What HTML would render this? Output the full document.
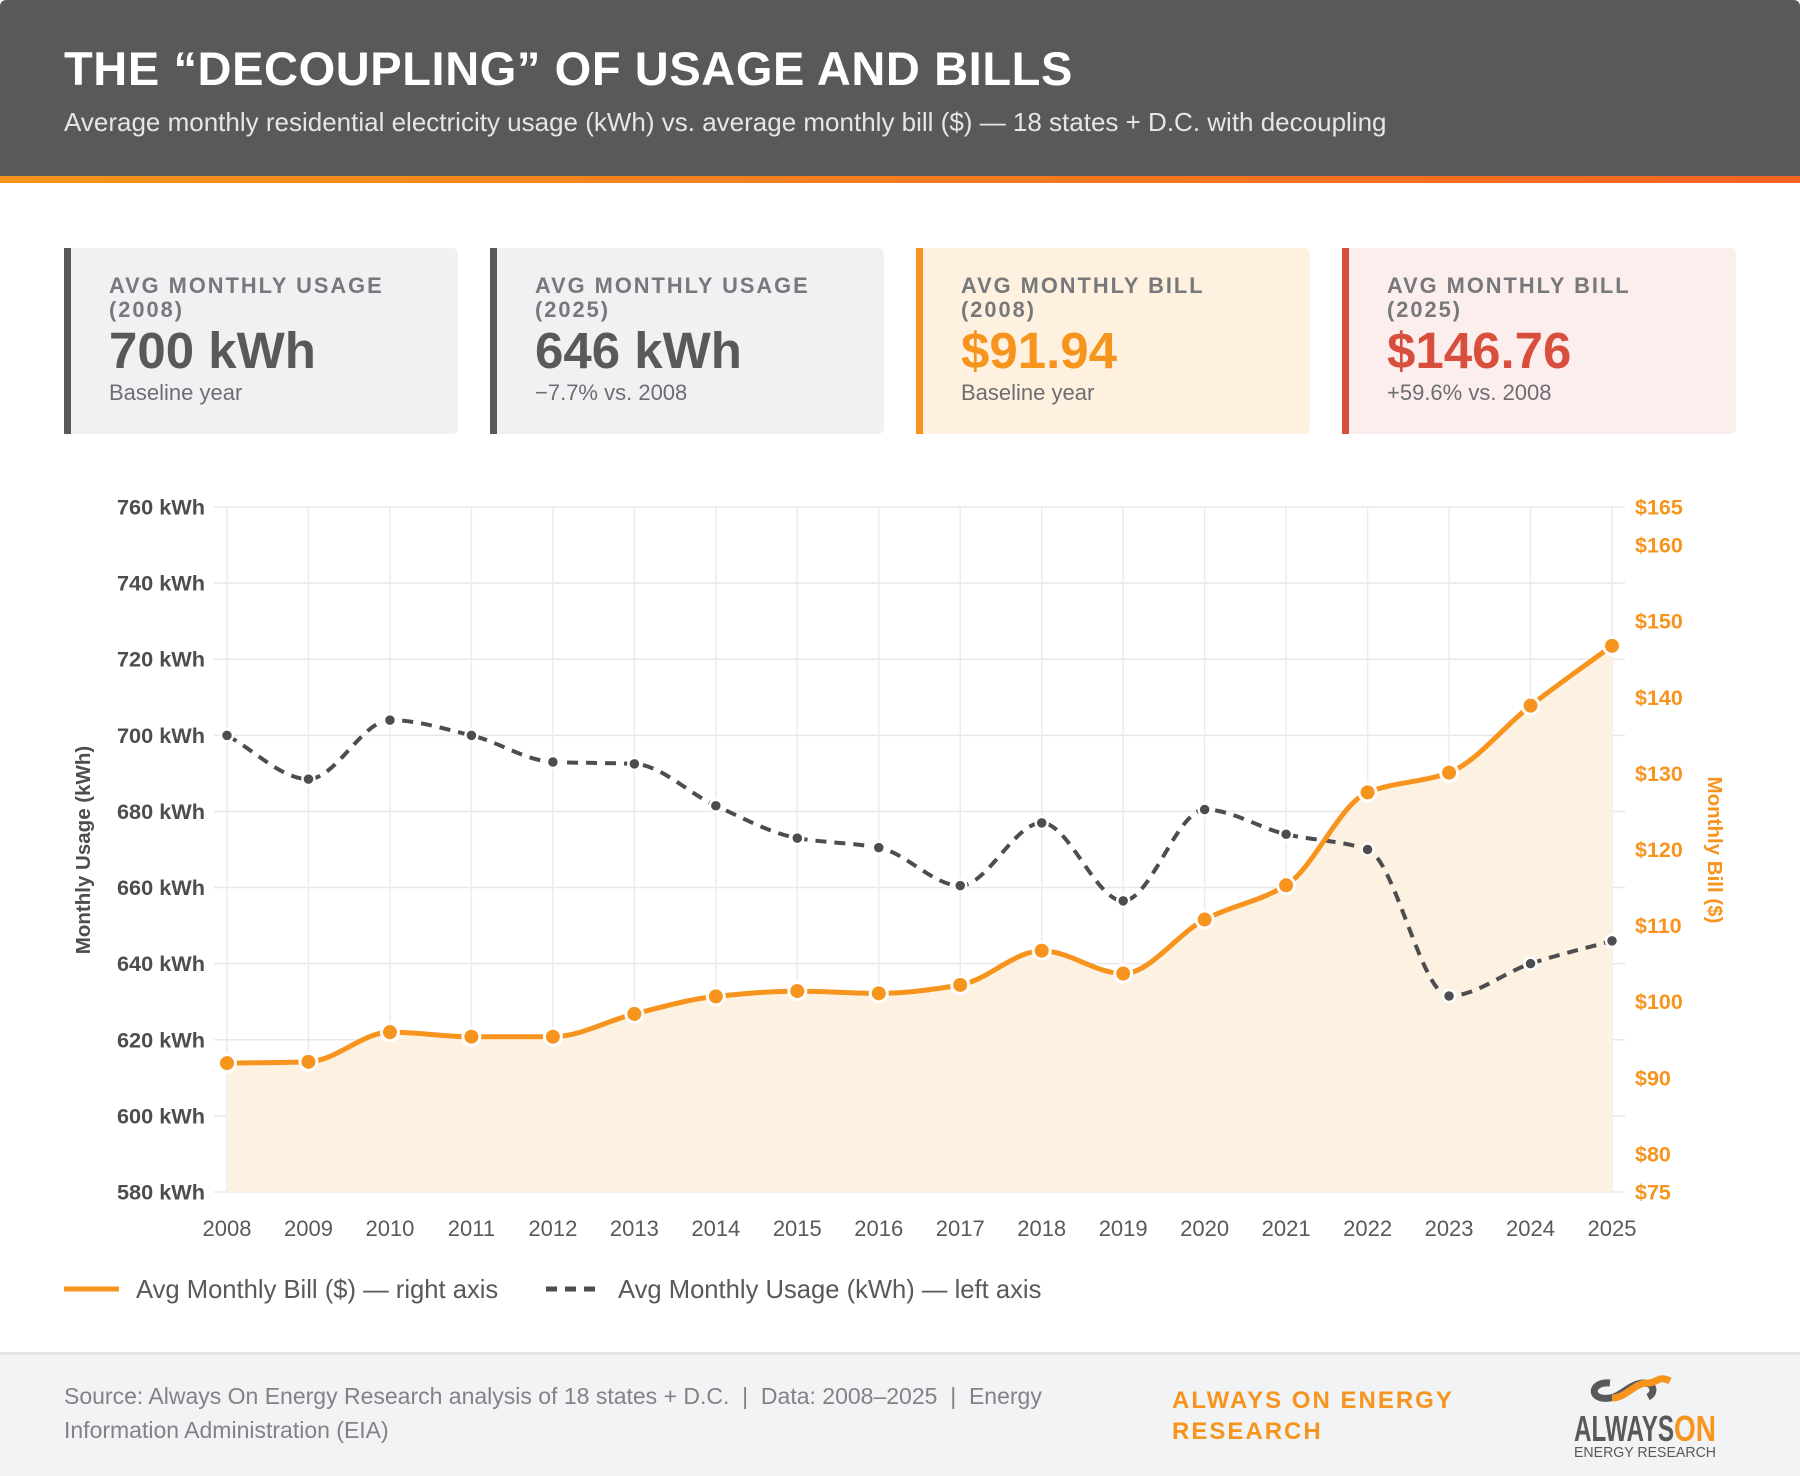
<!DOCTYPE html>
<html><head><meta charset="utf-8"><style>
*{margin:0;padding:0;box-sizing:border-box}
body{width:1800px;height:1476px;background:#fff;font-family:"Liberation Sans",Arial,sans-serif;position:relative;overflow:hidden}
.hdr{position:absolute;left:0;top:0;width:1800px;height:176px;background:#58595b;border-radius:6px 6px 0 0}
.bar{position:absolute;left:0;top:176px;width:1800px;height:7px;background:linear-gradient(90deg,#f7941d,#f26522)}
.title{position:absolute;left:64px;top:41px;color:#fff;font-size:47px;font-weight:bold;letter-spacing:0.6px}
.sub{position:absolute;left:64px;top:107px;color:#e6e6e6;font-size:26px}
.card{position:absolute;top:248px;width:394px;height:186px;border-radius:0 6px 6px 0;border-left:7px solid #58595b;background:#f0f1f3}
.card .lb{position:absolute;left:38px;top:26px;font-size:21.8px;font-weight:bold;letter-spacing:2px;color:#77787b;line-height:24px}
.card .v{position:absolute;left:38px;top:73px;font-size:51px;font-weight:bold;color:#58595b}
.card .s{position:absolute;left:38px;top:132px;font-size:22px;color:#6d6e71}
.foot{position:absolute;left:0;top:1352px;width:1800px;height:124px;background:#f2f3f5;border-top:3px solid #e3e4e6}
.src{position:absolute;left:64px;top:24px;width:1000px;font-size:23px;line-height:34px;color:#808285}
.brand{position:absolute;left:1172px;top:30px;font-size:24px;line-height:31px;font-weight:bold;color:#f7941d;letter-spacing:2px}
</style></head><body>
<div class="hdr">
<div class="title">THE “DECOUPLING” OF USAGE AND BILLS</div>
<div class="sub">Average monthly residential electricity usage (kWh) vs. average monthly bill ($) — 18 states + D.C. with decoupling</div>
</div>
<div class="bar"></div>

<div class="card" style="left:64px"><div class="lb">AVG MONTHLY USAGE<br>(2008)</div><div class="v">700 kWh</div><div class="s">Baseline year</div></div>
<div class="card" style="left:490px"><div class="lb">AVG MONTHLY USAGE<br>(2025)</div><div class="v">646 kWh</div><div class="s">−7.7% vs. 2008</div></div>
<div class="card" style="left:916px;background:#fef1e0;border-left-color:#f7941d"><div class="lb">AVG MONTHLY BILL<br>(2008)</div><div class="v" style="color:#f7941d">$91.94</div><div class="s">Baseline year</div></div>
<div class="card" style="left:1342px;background:#fdeeee;border-left-color:#d94f3d"><div class="lb">AVG MONTHLY BILL<br>(2025)</div><div class="v" style="color:#d94f3d">$146.76</div><div class="s">+59.6% vs. 2008</div></div>

<svg id="chart" width="1800" height="1476" style="position:absolute;left:0;top:0"></svg>

<div class="foot">
<div class="src">Source: Always On Energy Research analysis of 18 states + D.C. &nbsp;| &nbsp;Data: 2008–2025 &nbsp;| &nbsp;Energy<br>Information Administration (EIA)</div>
<div class="brand">ALWAYS ON ENERGY<br>RESEARCH</div>
<svg style="position:absolute;left:1572px;top:16px" width="150" height="90">
<path d="M38 12 C18 10 16 30 38 27 C50 25 58 12 72 12 C82 12 84 22 76 26" fill="none" stroke="#58595b" stroke-width="7"/>
<path d="M40 27 C54 27 62 12 76 12 C86 12 86 4 98 10" fill="none" stroke="#f7941d" stroke-width="7"/>
<text x="2" y="70" font-family="Liberation Sans" font-weight="bold" font-size="36" fill="#58595b" textLength="100" lengthAdjust="spacingAndGlyphs">ALWAYS</text>
<text x="102" y="70" font-family="Liberation Sans" font-weight="bold" font-size="36" fill="#f7941d" textLength="42" lengthAdjust="spacingAndGlyphs">ON</text>
<text x="2" y="86" font-family="Liberation Sans" font-size="15" fill="#58595b" textLength="142" lengthAdjust="spacingAndGlyphs">ENERGY RESEARCH</text>
</svg>
</div>

<script>
const years=[2008,2009,2010,2011,2012,2013,2014,2015,2016,2017,2018,2019,2020,2021,2022,2023,2024,2025];
const usage=[700,688.5,704,700,693,692.5,681.5,673,670.5,660.5,677,656.5,680.5,674,670,631.5,640,646];
const bill=[91.94,92.1,96,95.4,95.4,98.4,100.7,101.4,101.1,102.2,106.7,103.7,110.8,115.3,127.5,130.1,138.9,146.76];
const leftTicks=[760,740,720,700,680,660,640,620,600,580];
const rightTicks=[165,160,150,140,130,120,110,100,90,80,75];

const svg=document.getElementById('chart');
const NS='http://www.w3.org/2000/svg';
const X0=227,X1=1612,YT=507,YB=1192,GL=214,GR=1625;
const x=i=>X0+(X1-X0)*i/(years.length-1);
const yL=v=>YT+(760-v)/180*(YB-YT);
const yR=v=>YT+(165-v)/90*(YB-YT);
function el(t,a){const e=document.createElementNS(NS,t);for(const k in a)e.setAttribute(k,a[k]);svg.appendChild(e);return e;}
function txt(s,a){const e=el('text',a);e.textContent=s;return e;}

leftTicks.forEach(v=>{
 const g=el('line',{x1:GL,x2:GR,y1:yL(v),y2:yL(v),stroke:'#e8e8e8','stroke-width':1.5});
 
 
 const t=txt(v+' kWh',{x:205,y:yL(v)+7.5,'text-anchor':'end','font-size':21.7,'font-weight':'bold',fill:'#4d4d4f','font-family':'Liberation Sans'});
 
 
});
years.forEach((yr,i)=>{
 const g=el('line',{x1:x(i),x2:x(i),y1:YT,y2:YB,stroke:'#ececec','stroke-width':1.5});
 
 
 const t=txt(yr,{x:x(i),y:1236,'text-anchor':'middle','font-size':22,fill:'#58595b','font-family':'Liberation Sans'});
 
 
});
rightTicks.forEach(v=>{
 const t=txt('$'+v,{x:1635,y:yR(v)+7.5,'font-size':21.5,'font-weight':'bold',fill:'#f7941d','font-family':'Liberation Sans'});
 
 
});
const lt=txt('Monthly Usage (kWh)',{x:0,y:0,transform:'translate(90,850) rotate(-90)','text-anchor':'middle','font-size':20.5,'font-weight':'bold',fill:'#4d4d4f','font-family':'Liberation Sans'});


const rt=txt('Monthly Bill ($)',{x:0,y:0,transform:'translate(1708,850) rotate(90)','text-anchor':'middle','font-size':20.5,'font-weight':'bold',fill:'#f7941d','font-family':'Liberation Sans'});



function mono(pts){
 const n=pts.length,d=[],m=[];
 for(let i=0;i<n-1;i++)d.push((pts[i+1][1]-pts[i][1])/(pts[i+1][0]-pts[i][0]));
 m[0]=d[0];m[n-1]=d[n-2];
 for(let i=1;i<n-1;i++){m[i]=(d[i-1]*d[i]>0)?2/(1/d[i-1]+1/d[i]):0;}
 let s='M'+pts[0][0]+','+pts[0][1];
 for(let i=0;i<n-1;i++){const h=(pts[i+1][0]-pts[i][0])/3;
  s+=` C${pts[i][0]+h},${pts[i][1]+m[i]*h} ${pts[i+1][0]-h},${pts[i+1][1]-m[i+1]*h} ${pts[i+1][0]},${pts[i+1][1]}`;}
 return s;
}
const bp=bill.map((v,i)=>[x(i),yR(v)]);
const up=usage.map((v,i)=>[x(i),yL(v)]);
const bpath=mono(bp);
const area=el('path',{d:bpath+` L${x(years.length-1)},${YB} L${x(0)},${YB} Z`,fill:'#fdf1e2'});


const ul=el('path',{d:mono(up),fill:'none',stroke:'#4d4d4f','stroke-width':4,'stroke-dasharray':'11 8'});


const bl=el('path',{d:bpath,fill:'none',stroke:'#f7941d','stroke-width':5});


up.forEach(p=>{const c=el('circle',{cx:p[0],cy:p[1],r:6,fill:'#4d4d4f',stroke:'#fff','stroke-width':2.5});
 
 });
bp.forEach(p=>{const c=el('circle',{cx:p[0],cy:p[1],r:8.5,fill:'#f7941d',stroke:'#fff','stroke-width':3});
 
 });

const l1=el('line',{x1:64,x2:119,y1:1289,y2:1289,stroke:'#f7941d','stroke-width':5});


const t1=txt('Avg Monthly Bill ($) — right axis',{x:136,y:1298,'font-size':25.6,fill:'#58595b','font-family':'Liberation Sans'});


const l2=el('line',{x1:546,x2:603,y1:1289,y2:1289,stroke:'#4d4d4f','stroke-width':5,'stroke-dasharray':'11 8'});


const t2=txt('Avg Monthly Usage (kWh) — left axis',{x:618,y:1298,'font-size':25.6,fill:'#58595b','font-family':'Liberation Sans'});


</script>
</body></html>
